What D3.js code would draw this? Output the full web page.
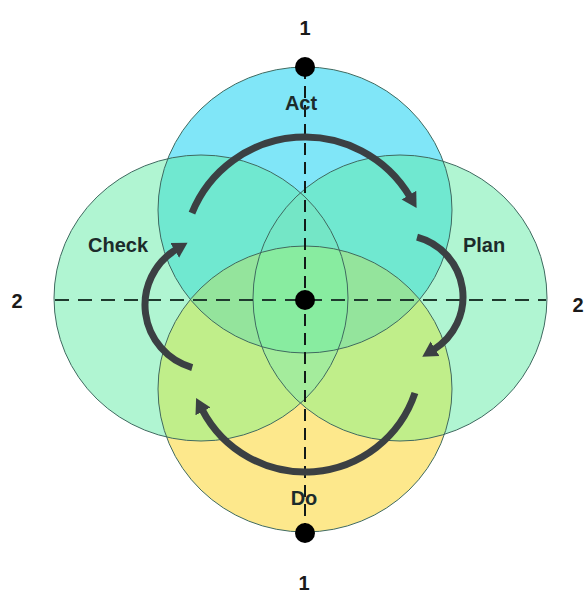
<!DOCTYPE html>
<html>
<head>
<meta charset="utf-8">
<script src="https://cdn.jsdelivr.net/npm/d3@7"></script>
<style>
  body { margin: 0; background: #fff; }
  text { font-family: "Liberation Sans", Arial, sans-serif; font-weight: bold; }
</style>
</head>
<body>
<div id="chart"></div>
<script>
// stages of the cycle, in clockwise order from the top
var stages = ["Act", "Plan", "Do", "Check"];
var stageColors = ["#80e6f8", "#b0f5d2", "#fde88c", "#b0f5d2"];

// overlap regions, painted in this order
var overlaps = [
  ["Act", "Check"], ["Act", "Plan"], ["Do", "Check"], ["Do", "Plan"],
  ["Act", "Check", "Plan"], ["Do", "Check", "Plan"],
  ["Act", "Do", "Check"], ["Act", "Do", "Plan"],
  ["Act", "Do", "Check", "Plan"]
];
var overlapColors = ["#70e8d0", "#70e8d0", "#c0ee8a", "#c0ee8a",
  "#74e6c6", "#a4ec9c", "#94e49c", "#94e49c", "#88eca0"];

// arrows go from one stage to the next
var cycle = [["Act", "Plan"], ["Plan", "Do"], ["Do", "Check"], ["Check", "Act"]];

// axis labels: 1 = vertical axis, 2 = horizontal axis
var axisLabels = ["1", "2"];

var svgWidth = 586;
var svgHeight = 596;

var svg = d3.select("#chart")
  .append("svg")
  .attr("width", svgWidth)
  .attr("height", svgHeight);

// unit diagram coords -> pixels
var xScale = d3.scaleLinear().domain([-1, 1]).range([201, 400]);
var yScale = d3.scaleLinear().domain([-1, 1]).range([210, 389]);
var midX = 305, midY = 300;
var rx = 147, ry = 143;

var unitPos = {
  Act: [0, -1], Plan: [1, 0], Do: [0, 1], Check: [-1, 0]
};

var geom = {};
stages.forEach(function(s, i) {
  var u = unitPos[s];
  geom[s] = {
    cx: u[0] === 0 ? midX : xScale(u[0]),
    cy: u[1] === 0 ? midY - 2 : yScale(u[1]),
    color: stageColors[i]
  };
});

var defs = svg.append("defs");

stages.forEach(function(s) {
  defs.append("clipPath")
    .attr("id", "clip-" + s)
    .append("ellipse")
    .attr("cx", geom[s].cx)
    .attr("cy", geom[s].cy)
    .attr("rx", rx)
    .attr("ry", ry);
});

defs.append("marker")
  .attr("id", "head")
  .attr("markerUnits", "userSpaceOnUse")
  .attr("viewBox", "0 -10 20 20")
  .attr("markerWidth", 20)
  .attr("markerHeight", 20)
  .attr("refX", 2)
  .attr("refY", 0)
  .attr("orient", "auto")
  .append("path")
  .attr("d", "M0,-8.5L15,0L0,8.5Z")
  .attr("fill", "#3b4043");

// base circles
var fills = svg.append("g");
["Check", "Plan", "Act", "Do"].forEach(function(s) {
  fills.append("ellipse")
    .attr("cx", geom[s].cx)
    .attr("cy", geom[s].cy)
    .attr("rx", rx)
    .attr("ry", ry)
    .attr("fill", geom[s].color);
});

// overlap regions via nested clips
overlaps.forEach(function(members, i) {
  var g = fills;
  members.slice(0, -1).forEach(function(m) {
    g = g.append("g").attr("clip-path", "url(#clip-" + m + ")");
  });
  var last = geom[members[members.length - 1]];
  g.append("ellipse")
    .attr("cx", last.cx)
    .attr("cy", last.cy)
    .attr("rx", rx)
    .attr("ry", ry)
    .attr("fill", overlapColors[i]);
});

// outlines
svg.append("g")
  .selectAll("ellipse")
  .data(stages)
  .enter()
  .append("ellipse")
  .attr("cx", d => geom[d].cx)
  .attr("cy", d => geom[d].cy)
  .attr("rx", rx)
  .attr("ry", ry)
  .attr("fill", "none")
  .attr("stroke", "#3f6a60")
  .attr("stroke-width", 1);

// dashed axes
svg.append("line")
  .attr("x1", 55).attr("x2", 546)
  .attr("y1", midY).attr("y2", midY)
  .attr("stroke", "#1f3a2e")
  .attr("stroke-width", 2.2)
  .attr("stroke-dasharray", "14,9");

svg.append("line")
  .attr("x1", midX).attr("x2", midX)
  .attr("y1", 67).attr("y2", 533)
  .attr("stroke", "#121a18")
  .attr("stroke-width", 2)
  .attr("stroke-dasharray", "12,7");

// arrows: arc center, radius, start angle, tip angle (degrees)
var arcGeom = {
  Act: [305, 259, 122, -157.9, -23.6],
  Plan: [401, 297, 62, -75, 72.4],
  Do: [305, 356, 116, 18.6, 159.9],
  Check: [210, 305, 65, 105.9, 252.1]
};
var rad = Math.PI / 180;

svg.append("g")
  .selectAll("path")
  .data(cycle)
  .enter()
  .append("path")
  .attr("d", function(d) {
    var a = arcGeom[d[0]];
    var p = d3.path();
    p.arc(a[0], a[1], a[2], a[3] * rad, a[4] * rad - 15 / a[2], false);
    return p.toString();
  })
  .attr("fill", "none")
  .attr("stroke", "#3b4043")
  .attr("stroke-width", 7)
  .attr("marker-end", "url(#head)");

// dots on the vertical axis
svg.append("g")
  .selectAll("circle")
  .data([67, midY, 533])
  .enter()
  .append("circle")
  .attr("cx", midX)
  .attr("cy", d => d)
  .attr("r", 10)
  .attr("fill", "#000");

// stage labels
var labelPos = {
  Act: [301, 110], Plan: [484, 252], Do: [304, 505], Check: [118, 252]
};
svg.append("g")
  .selectAll("text")
  .data(stages)
  .enter()
  .append("text")
  .attr("x", d => labelPos[d][0])
  .attr("y", d => labelPos[d][1])
  .attr("text-anchor", "middle")
  .attr("font-size", 20)
  .attr("fill", "#1c2b2b")
  .text(d => d);

// axis labels
var axisText = [
  [axisLabels[0], 305, 35], [axisLabels[0], 304, 590],
  [axisLabels[1], 17, 308], [axisLabels[1], 578, 312]
];
svg.append("g")
  .selectAll("text")
  .data(axisText)
  .enter()
  .append("text")
  .attr("x", d => d[1])
  .attr("y", d => d[2])
  .attr("text-anchor", "middle")
  .attr("font-size", 20)
  .attr("fill", "#1a1a1a")
  .text(d => d[0]);
</script>
</body>
</html>
